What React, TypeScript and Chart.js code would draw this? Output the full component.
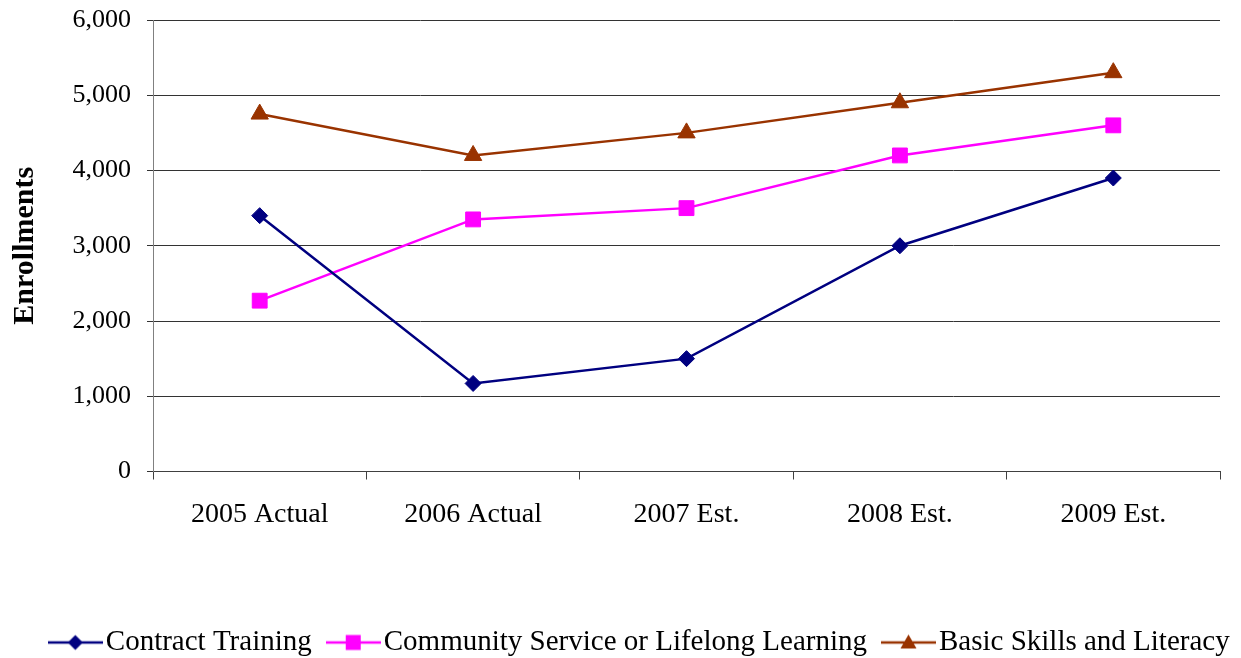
import React, { useEffect, useRef } from "react";
import { Chart, registerables } from "chart.js";

Chart.register(...registerables);

const categories = ["2005 Actual", "2006 Actual", "2007 Est.", "2008 Est.", "2009 Est."];
const contractTraining = [3400, 1170, 1500, 3000, 3900];
const communityService = [2270, 3350, 3500, 4200, 4600];
const basicSkills = [4750, 4200, 4500, 4900, 5300];
const seriesNames = [
  "Contract Training",
  "Community Service or Lifelong Learning",
  "Basic Skills and Literacy",
];
const yAxisTitle = "Enrollments";
const yMin = 0;
const yMax = 6000;
const yStep = 1000;

const FONT = '"Liberation Serif", "Times New Roman", serif';
const NAVY = "#000080";
const MAGENTA = "#FF00FF";
const BROWN = "#993300";
const LEGEND_FONT = 29;
const SWATCH_W = 55;
const BOX_W = 32;

function makeSwatch(color: string, kind: "diamond" | "square" | "triangle") {
  const c = document.createElement("canvas");
  c.width = SWATCH_W;
  c.height = 22;
  const ctx = c.getContext("2d")!;
  const cx = SWATCH_W / 2;
  ctx.strokeStyle = color;
  ctx.lineWidth = 2.5;
  ctx.beginPath();
  ctx.moveTo(0, 11);
  ctx.lineTo(SWATCH_W, 11);
  ctx.stroke();
  ctx.fillStyle = color;
  ctx.beginPath();
  if (kind === "diamond") {
    ctx.moveTo(cx - 7.5, 11);
    ctx.lineTo(cx, 3.5);
    ctx.lineTo(cx + 7.5, 11);
    ctx.lineTo(cx, 18.5);
    ctx.closePath();
  } else if (kind === "square") {
    ctx.rect(cx - 7.5, 3.5, 15, 15);
  } else {
    ctx.moveTo(cx, 3);
    ctx.lineTo(cx + 8, 17);
    ctx.lineTo(cx - 8, 17);
    ctx.closePath();
  }
  ctx.fill();
  return c;
}

const legendShift = {
  id: "legendShift",
  afterLayout(chart: any) {
    const lg = chart.legend;
    if (lg) {
      lg.left += 24;
      lg.right += 24;
    }
  },
};

export default function App() {
  const ref = useRef<HTMLCanvasElement | null>(null);

  useEffect(() => {
    if (!ref.current) return;
    const swatches = [
      makeSwatch(NAVY, "diamond"),
      makeSwatch(MAGENTA, "square"),
      makeSwatch(BROWN, "triangle"),
    ];
    const chart = new Chart(ref.current, {
      type: "line",
      plugins: [legendShift],
      data: {
        labels: categories,
        datasets: [
          {
            label: seriesNames[0],
            data: contractTraining,
            borderColor: NAVY,
            backgroundColor: NAVY,
            borderWidth: 2.5,
            pointStyle: "rectRot",
            pointRadius: 8,
            pointBorderWidth: 1,
            pointBackgroundColor: NAVY,
            pointBorderColor: NAVY,
          },
          {
            label: seriesNames[1],
            data: communityService,
            borderColor: MAGENTA,
            backgroundColor: MAGENTA,
            borderWidth: 2.5,
            pointStyle: "rect",
            pointRadius: 10.5,
            pointBorderWidth: 1,
            pointBackgroundColor: MAGENTA,
            pointBorderColor: MAGENTA,
          },
          {
            label: seriesNames[2],
            data: basicSkills,
            borderColor: BROWN,
            backgroundColor: BROWN,
            borderWidth: 2.5,
            pointStyle: "triangle",
            pointRadius: 10,
            pointBorderWidth: 1,
            pointBackgroundColor: BROWN,
            pointBorderColor: BROWN,
          },
        ],
      },
      options: {
        animation: false,
        responsive: false,
        maintainAspectRatio: false,
        layout: { padding: { left: 0, right: 0, top: 20, bottom: -9 } },
        elements: { line: { tension: 0 } },
        plugins: {
          tooltip: { enabled: false },
          legend: {
            position: "bottom",
            labels: {
              usePointStyle: true,
              pointStyleWidth: BOX_W,
              boxHeight: 22,
              padding: 25.5,
              color: "#000",
              font: { family: FONT, size: LEGEND_FONT },
              generateLabels: (ch: any) => {
                const items = Chart.defaults.plugins.legend.labels.generateLabels(ch);
                return items.map((it: any, i: number) => ({ ...it, pointStyle: swatches[i] }));
              },
            },
          },
        },
        scales: {
          x: {
            type: "category",
            offset: true,
            grid: {
              offset: true,
              drawOnChartArea: false,
              drawTicks: true,
              tickLength: 8,
              color: "#404040",
            },
            border: { color: "#404040", width: 1 },
            ticks: {
              color: "#000",
              padding: 18,
              maxRotation: 0,
              font: { family: FONT, size: 28 },
            },
            afterFit: (s: any) => {
              s.height = 131;
            },
          },
          y: {
            min: yMin,
            max: yMax,
            grid: {
              color: "#333",
              tickLength: 6,
              lineWidth: 1,
            },
            border: { color: "#808080", width: 1 },
            ticks: {
              stepSize: yStep,
              color: "#000",
              padding: 16,
              font: { family: FONT, size: 26 },
              callback: (v: any) => Number(v).toLocaleString("en-US"),
            },
            title: {
              display: true,
              text: yAxisTitle,
              color: "#000",
              padding: { top: 7, bottom: 0 },
              font: { family: FONT, size: 30, weight: "bold" },
            },
            afterFit: (s: any) => {
              s.width = 153;
              s.paddingTop = 0;
              s.paddingBottom = 0;
            },
          },
          yRight: {
            position: "right",
            display: true,
            grid: { display: false, drawTicks: false },
            border: { display: false },
            ticks: { display: false },
            afterFit: (s: any) => {
              s.width = 21;
              s.paddingTop = 0;
              s.paddingBottom = 0;
            },
          },
        },
      },
    });
    return () => chart.destroy();
  }, []);

  return (
    <div style={{ position: "absolute", left: 0, top: 0, width: 1241, height: 658, background: "#fff" }}>
      <canvas ref={ref} width={1241} height={658} style={{ width: 1241, height: 658 }} />
    </div>
  );
}
